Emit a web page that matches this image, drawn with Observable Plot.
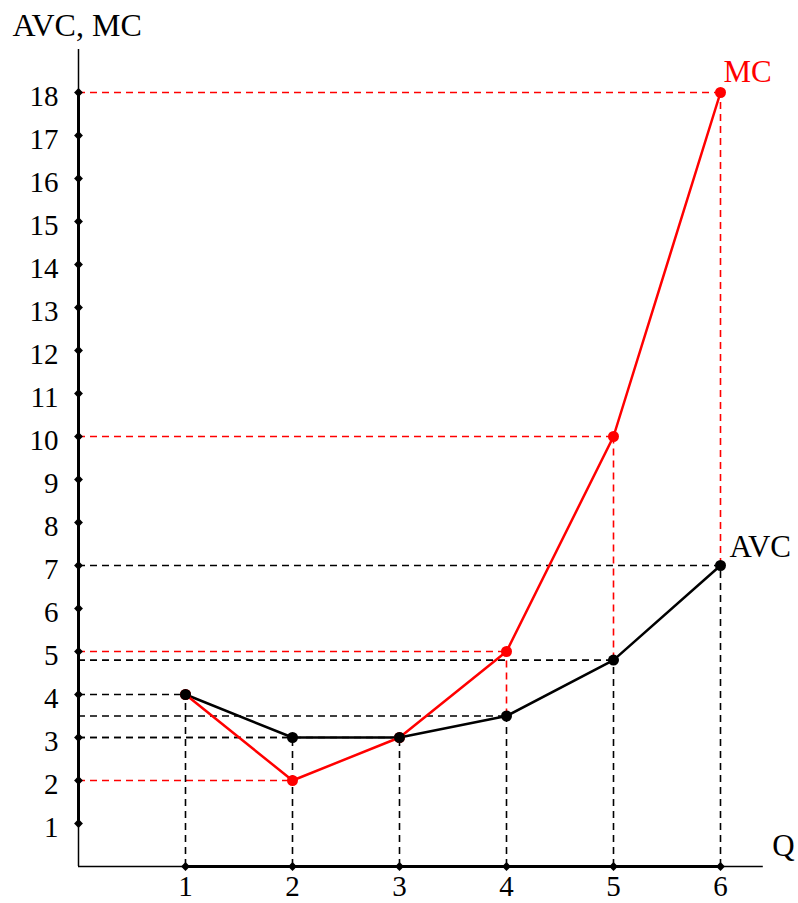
<!DOCTYPE html>
<html>
<head>
<meta charset="utf-8">
<script src="https://cdn.jsdelivr.net/npm/d3@7"></script>
<script src="https://cdn.jsdelivr.net/npm/@observablehq/plot@0.6"></script>
<style>
  html, body { margin: 0; padding: 0; background: white; }
  svg { display: block; }
</style>
</head>
<body>
<div id="chart"></div>
<script>
// Data
const quantities = [1, 2, 3, 4, 5, 6];
const avcValues = [4, 3, 3, 3.5, 4.8, 7];
const mcValues = [4, 2, 3, 5, 10, 18];
const yTickValues = d3.range(1, 19);
const xTickValues = [1, 2, 3, 4, 5, 6];

const rows = quantities.map((q, i) => ({q, avc: avcValues[i], mc: mcValues[i]}));

const FONT = "'Liberation Serif', 'Times New Roman', serif";
const dash = "7,5";

const chart = Plot.plot({
  width: 798,
  height: 903,
  marginLeft: 78,
  marginRight: 78,
  marginTop: 92,
  marginBottom: 37,
  x: {domain: [0, 6], axis: null},
  y: {domain: [0, 18], axis: null},
  style: {fontFamily: FONT, background: "white", overflow: "visible"},
  marks: [
    // horizontal dashed guides
    Plot.ruleY(rows, {y: "avc", x1: 0, x2: "q", stroke: "black", strokeWidth: 1.6, strokeDasharray: dash}),
    Plot.ruleY(rows.filter(d => d.mc !== d.avc), {y: "mc", x1: 0, x2: "q", stroke: "red", strokeWidth: 1.6, strokeDasharray: dash}),
    // vertical dashed guides
    Plot.ruleX(rows, {x: "q", y1: 0, y2: "avc", stroke: "black", strokeWidth: 1.6, strokeDasharray: dash}),
    Plot.ruleX(rows.filter(d => d.mc > d.avc), {x: "q", y1: "avc", y2: "mc", stroke: "red", strokeWidth: 1.6, strokeDasharray: dash}),
    // axes
    Plot.ruleX([0], {y1: 0, y2: 19, stroke: "black", strokeWidth: 1.5}),
    Plot.ruleX([0], {y1: 1, y2: 18, stroke: "black", strokeWidth: 3}),
    Plot.ruleY([0], {x1: 0, x2: 6.4, stroke: "black", strokeWidth: 1.5}),
    Plot.ruleY([0], {x1: 1, x2: 6, stroke: "black", strokeWidth: 3}),
    // axis tick diamonds
    Plot.dot(yTickValues, {x: 0, y: d => d, symbol: "diamond2", r: 4, fill: "black", stroke: null}),
    Plot.dot(xTickValues, {x: d => d, y: 0, symbol: "diamond2", r: 4, fill: "black", stroke: null}),
    // tick labels
    Plot.text(yTickValues, {x: 0, y: d => d, text: d => String(d), textAnchor: "end", dx: -20, dy: 4, fontSize: 29, fill: "black"}),
    Plot.text(xTickValues, {x: d => d, y: 0, text: d => String(d), dy: 20, fontSize: 29, fill: "black"}),
    // curves
    Plot.line(rows, {x: "q", y: "avc", stroke: "black", strokeWidth: 2.5}),
    Plot.line(rows, {x: "q", y: "mc", stroke: "red", strokeWidth: 2.5}),
    Plot.dot(rows, {x: "q", y: "mc", r: 5.5, fill: "red", stroke: null}),
    Plot.dot(rows, {x: "q", y: "avc", r: 5.5, fill: "black", stroke: null}),
    // labels
    Plot.text(["AVC, MC"], {x: 0, y: 18, text: d => d, textAnchor: "start", dx: -66, dy: -67, fontSize: 32, fill: "black"}),
    Plot.text(["Q"], {x: 6, y: 0, text: d => d, textAnchor: "middle", dx: 63, dy: -20, fontSize: 31, fill: "black"}),
    Plot.text(["MC"], {x: 6, y: 18, text: d => d, textAnchor: "start", dx: 3, dy: -20, fontSize: 31, fill: "red"}),
    Plot.text(["AVC"], {x: 6, y: 7, text: d => d, textAnchor: "start", dx: 9, dy: -18, fontSize: 31, fill: "black"})
  ]
});

document.getElementById("chart").appendChild(chart);
</script>
</body>
</html>
